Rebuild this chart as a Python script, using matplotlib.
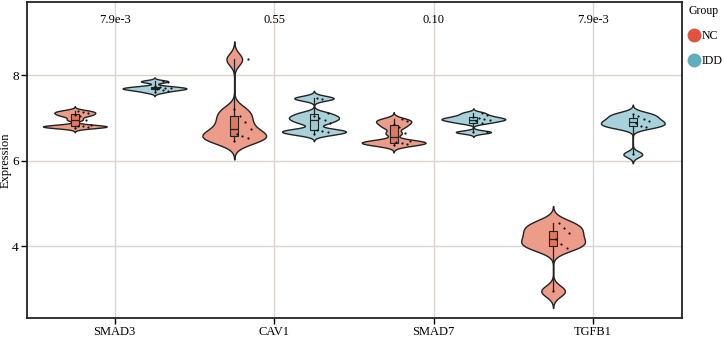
import numpy as np
import matplotlib.pyplot as plt
from matplotlib.lines import Line2D

plt.rcParams['font.family'] = ['Liberation Serif', 'DejaVu Serif']

genes = ['SMAD3', 'CAV1', 'SMAD7', 'TGFB1']
groups = ['NC', 'IDD']
pvals = ['7.9e-3', '0.55', '0.10', '7.9e-3']

nc_smad3 = [6.77, 6.79, 6.80, 6.81, 6.83, 6.96, 7.04, 7.08, 7.11, 7.14, 7.17]
nc_cav1 = [6.45, 6.52, 6.58, 6.62, 6.75, 6.90, 7.05, 7.20, 8.37]
nc_smad7 = [6.36, 6.40, 6.42, 6.44, 6.47, 6.64, 6.78, 6.86, 6.92, 6.97]
nc_tgfb1 = [2.95, 3.95, 4.05, 4.16, 4.30, 4.42, 4.55]

idd_smad3 = [7.60, 7.64, 7.66, 7.68, 7.69, 7.70, 7.72, 7.74, 7.85, 7.86]
idd_cav1 = [6.62, 6.66, 6.70, 6.72, 6.88, 6.95, 7.00, 7.05, 7.12, 7.45, 7.47]
idd_smad7 = [6.66, 6.68, 6.88, 6.92, 6.95, 6.97, 6.99, 7.02, 7.06, 7.12]
idd_tgfb1 = [6.15, 6.78, 6.82, 6.87, 6.92, 6.97, 7.05, 7.10]

nc_data = [nc_smad3, nc_cav1, nc_smad7, nc_tgfb1]
idd_data = [idd_smad3, idd_cav1, idd_smad7, idd_tgfb1]

# kde bandwidths, per gene
bw_nc = [0.035, 0.14, 0.055, 0.13]
bw_idd = [0.03, 0.055, 0.035, 0.07]

violin_col = {'NC': '#EC9C88', 'IDD': '#A8D2DB'}
box_col = {'NC': '#E2775F', 'IDD': '#9CCAD4'}
legend_col = {'NC': '#E0533F', 'IDD': '#5FAEC0'}


def kde_stats(d, bw):
    d = np.asarray(d)
    coords = np.linspace(d.min() - 3 * bw, d.max() + 3 * bw, 300)
    vals = np.exp(-0.5 * ((coords[:, None] - d[None, :]) / bw) ** 2).sum(axis=1)
    vals = vals / (len(d) * bw * np.sqrt(2 * np.pi))
    return dict(coords=coords, vals=vals, mean=d.mean(), median=np.median(d),
                min=d.min(), max=d.max())


fig = plt.figure(figsize=(7.24, 3.42), dpi=100)
ax = fig.add_axes([0.0373, 0.070, 0.905, 0.924])

x = np.arange(1, len(genes) + 1)
offset = 0.25

for g, data, bws in [('NC', nc_data, bw_nc), ('IDD', idd_data, bw_idd)]:
    pos = x - offset if g == 'NC' else x + offset
    stats = [kde_stats(d, b) for d, b in zip(data, bws)]
    parts = ax.violin(stats, positions=pos, widths=0.4,
                      showmeans=False, showextrema=False, showmedians=False)
    for b in parts['bodies']:
        b.set_facecolor(violin_col[g])
        b.set_edgecolor('#222222')
        b.set_linewidth(1.0)
        b.set_alpha(1)
        b.set_zorder(2)
    bp = ax.boxplot(data, positions=pos, widths=0.05, whis=(0, 100),
                    patch_artist=True, showfliers=False, manage_ticks=False,
                    zorder=3)
    for b in bp['boxes']:
        b.set_facecolor(box_col[g])
        b.set_edgecolor('#222222')
        b.set_linewidth(0.8)
    for key in ['whiskers', 'medians']:
        for ln in bp[key]:
            ln.set_color('#222222')
            ln.set_linewidth(0.9)
    for ln in bp['caps']:
        ln.set_visible(False)
    # jittered points, mostly right of the box
    for p, d in zip(pos, data):
        jit = np.array([((k * 5) % 7) / 7.0 * 0.12 for k in range(len(d))])
        ax.scatter(p + jit, d, s=2.5, color='#111111', zorder=4, linewidths=0)

for xi, pv in zip(x, pvals):
    ax.text(xi, 9.29, pv, ha='center', va='center', fontsize=9)

ax.set_xlim(0.45, 4.56)
ax.set_ylim(2.32, 9.71)
ax.set_xticks(x)
ax.set_xticklabels(genes, fontsize=9)
ax.set_yticks([4, 6, 8])
ax.set_yticklabels(['4', '6', '8'], fontsize=9.5)
ax.set_ylabel('Expression', fontsize=9)
ax.yaxis.set_label_coords(-0.024, 0.5)
ax.grid(True, color='#DCD2CE', linewidth=1.0, zorder=0)
ax.set_axisbelow(True)
for s in ax.spines.values():
    s.set_linewidth(1.3)
    s.set_color('#222222')
ax.tick_params(axis='both', length=4, width=1.0, pad=2)

handles = [Line2D([], [], marker='o', linestyle='', markersize=9,
                  markerfacecolor=legend_col[g], markeredgecolor=legend_col[g])
           for g in groups]
leg = fig.legend(handles, groups, title='Group', loc='upper left',
                 bbox_to_anchor=(0.945, 1.0), frameon=False, fontsize=8.5,
                 title_fontsize=8.5, handletextpad=0.25, labelspacing=1.1,
                 handlelength=0.8, borderaxespad=0.2, borderpad=0.2)
leg._legend_box.align = 'left'

fig.savefig('out.png', dpi=100)
